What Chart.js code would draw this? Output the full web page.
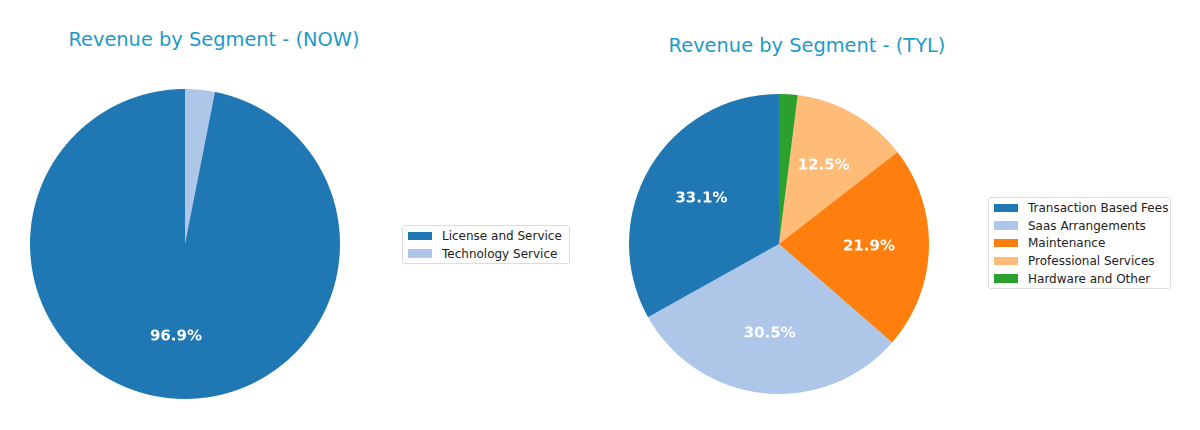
<!DOCTYPE html>
<html>
<head>
<meta charset="utf-8">
<script src="https://cdn.jsdelivr.net/npm/chart.js@4.4.1/dist/chart.umd.min.js"></script>
<style>
  html, body { margin: 0; padding: 0; background: #ffffff; }
  body { width: 1200px; height: 430px; position: relative; overflow: hidden; font-family: "DejaVu Sans", sans-serif; }
  .title { position: absolute; font-size: 19.4px; line-height: 19px; color: #1f9ac6; white-space: nowrap; transform: translateX(-50%); }
  .pie { position: absolute; }
  .legend { position: absolute; border: 1px solid #dddddd; border-radius: 3px; background: #fff; padding: 1px 5px 1px 5px; box-sizing: border-box; }
  .legend .row { display: flex; align-items: center; height: 17.7px; font-size: 12px; color: #222; white-space: nowrap; }
  .legend .sw { width: 24px; height: 8.5px; margin-right: 10px; flex: none; }
</style>
</head>
<body>
<div class="title" id="t1" style="left:214px; top:30px;"></div>
<div class="title" id="t2" style="left:807px; top:36px;"></div>
<div class="pie" style="left:30px; top:89px; width:310px; height:310px;"><canvas id="c1"></canvas></div>
<div class="pie" style="left:629px; top:94px; width:300px; height:300px;"><canvas id="c2"></canvas></div>
<div class="legend" id="l1" style="left:402px; top:225px; width:168px;"></div>
<div class="legend" id="l2" style="left:988px; top:197px; width:183px;"></div>
<script>
// ---- data ----
const titleNOW = "Revenue by Segment - (NOW)";
const titleTYL = "Revenue by Segment - (TYL)";
const labelsNOW = ["License and Service", "Technology Service"];
const valuesNOW = [96.9, 3.1];
const colorsNOW = ["#1f77b4", "#aec7e8"];
const labelsTYL = ["Transaction Based Fees", "Saas Arrangements", "Maintenance", "Professional Services", "Hardware and Other"];
const valuesTYL = [33.1, 30.5, 21.9, 12.5, 2.0];
const colorsTYL = ["#1f77b4", "#aec7e8", "#ff7f0e", "#ffbb78", "#2ca02c"];

const pctPlugin = {
  id: 'pctLabels',
  afterDatasetsDraw(chart) {
    const ctx = chart.ctx;
    const ds = chart.data.datasets[0];
    const total = ds.data.reduce((a, b) => a + b, 0);
    const meta = chart.getDatasetMeta(0);
    ctx.save();
    ctx.fillStyle = '#ffffff';
    ctx.font = 'bold 15px "DejaVu Sans"';
    ctx.textAlign = 'center';
    ctx.textBaseline = 'middle';
    meta.data.forEach((arc, i) => {
      const pct = ds.data[i] / total * 100;
      if (pct < 5) return;
      const p = arc.getProps(['x', 'y', 'startAngle', 'endAngle', 'outerRadius'], true);
      const mid = (p.startAngle + p.endAngle) / 2;
      const r = p.outerRadius * 0.6;
      ctx.fillText(pct.toFixed(1) + '%', p.x + Math.cos(mid) * r, p.y + Math.sin(mid) * r);
    });
    ctx.restore();
  }
};

function makePie(id, labels, values, colors) {
  // matplotlib draws counter-clockwise from the top; Chart.js draws clockwise, so reverse order
  const L = labels.slice().reverse();
  const V = values.slice().reverse();
  const C = colors.slice().reverse();
  new Chart(document.getElementById(id), {
    type: 'pie',
    data: { labels: L, datasets: [{ data: V, backgroundColor: C, borderWidth: 0 }] },
    options: {
      responsive: true,
      maintainAspectRatio: false,
      animation: false,
      devicePixelRatio: 2,
      layout: { padding: 0 },
      plugins: { legend: { display: false }, tooltip: { enabled: false }, title: { display: false } }
    },
    plugins: [pctPlugin]
  });
}

function makeLegend(id, labels, colors) {
  const el = document.getElementById(id);
  labels.forEach((l, i) => {
    const row = document.createElement('div');
    row.className = 'row';
    const sw = document.createElement('span');
    sw.className = 'sw';
    sw.style.background = colors[i];
    const tx = document.createElement('span');
    tx.textContent = l;
    row.appendChild(sw); row.appendChild(tx);
    el.appendChild(row);
  });
}

document.getElementById('t1').textContent = titleNOW;
document.getElementById('t2').textContent = titleTYL;
makePie('c1', labelsNOW, valuesNOW, colorsNOW);
makePie('c2', labelsTYL, valuesTYL, colorsTYL);
makeLegend('l1', labelsNOW, colorsNOW);
makeLegend('l2', labelsTYL, colorsTYL);
</script>
</body>
</html>
